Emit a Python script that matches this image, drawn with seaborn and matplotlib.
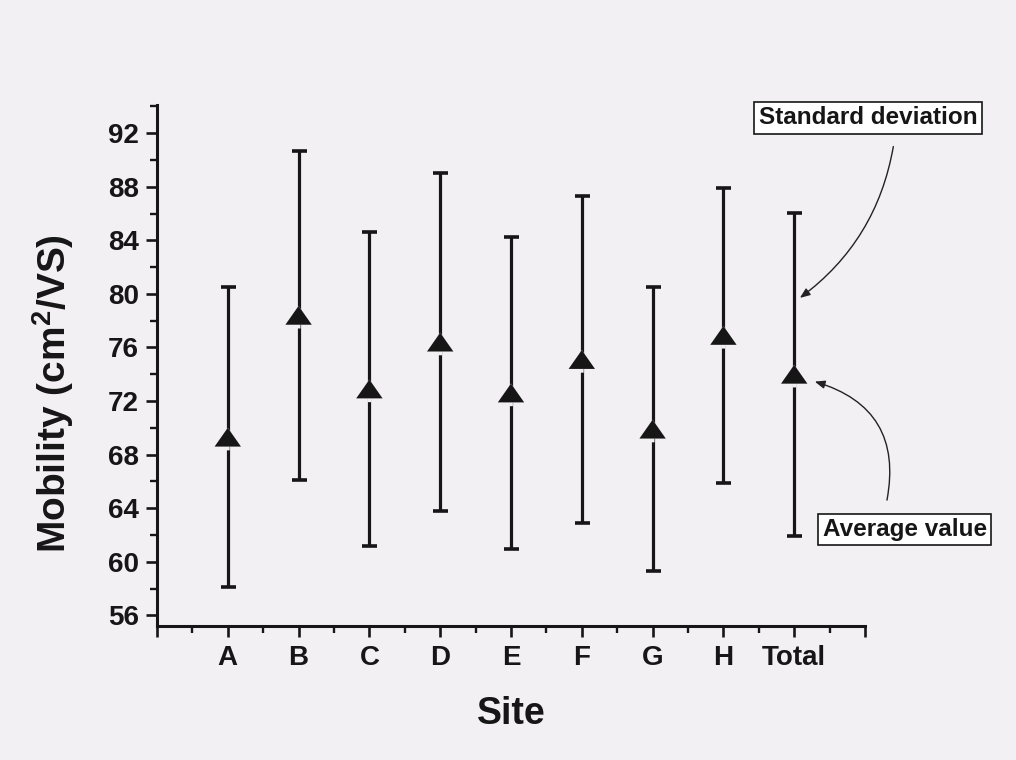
import numpy as np
import pandas as pd
import matplotlib
matplotlib.use("Agg")
import matplotlib.pyplot as plt
from matplotlib.path import Path
from matplotlib.ticker import MultipleLocator, FixedLocator
import seaborn as sns

# Mobility per measurement site: mean and standard deviation
sites = ["A", "B", "C", "D", "E", "F", "G", "H", "Total"]
mean_mobility = [69.3, 78.4, 72.9, 76.4, 72.6, 75.1, 69.9, 76.9, 74.0]
std_mobility = [11.2, 12.3, 11.7, 12.6, 11.65, 12.2, 10.6, 11.0, 12.05]
y_ticks = [56, 60, 64, 68, 72, 76, 80, 84, 88, 92]

df = pd.DataFrame({"site": sites, "mean": mean_mobility, "sd": std_mobility})
df["pos"] = np.arange(1, len(df) + 1)

sns.set_theme(style="ticks")
plt.rcParams["font.family"] = ["Liberation Sans", "DejaVu Sans"]
plt.rcParams["mathtext.fontset"] = "custom"
plt.rcParams["mathtext.rm"] = "Liberation Sans:bold"
plt.rcParams["mathtext.bf"] = "Liberation Sans:bold"

bg = "#f3f0f4"
ink = "#161616"

fig = plt.figure(figsize=(10.16, 7.6), dpi=100, facecolor=bg)
ax = fig.add_axes([0.1545, 0.1763, 0.6969, 0.6855])
ax.set_facecolor(bg)

# error bars (mean +/- sd)
ax.errorbar(df["pos"], df["mean"], yerr=df["sd"], fmt="none", ecolor=ink,
            elinewidth=2.3, capsize=5.4, capthick=2.6, zorder=2)

# wide triangle marker and a backdrop that leaves a small gap under its base
tri = Path([(0, 1), (-1.4, -1), (1.4, -1), (0, 1)],
           [Path.MOVETO, Path.LINETO, Path.LINETO, Path.CLOSEPOLY])
gap = Path([(0, 1), (-1.4, -1), (-0.2, -1), (-0.2, -1.4), (0.2, -1.4),
            (0.2, -1), (1.4, -1), (0, 1)],
           [Path.MOVETO] + [Path.LINETO] * 6 + [Path.CLOSEPOLY])

sns.scatterplot(data=df, x="pos", y="mean", marker=gap, s=19 ** 2, color=bg,
                edgecolor="none", linewidth=0, ax=ax, zorder=3, legend=False)
sns.scatterplot(data=df, x="pos", y="mean", marker=tri, s=19 ** 2, color=ink,
                edgecolor="none", linewidth=0, ax=ax, zorder=4, legend=False)

ax.set_xlim(0, 10)
ax.set_ylim(55.2, 94.1)

ax.xaxis.set_major_locator(FixedLocator(np.arange(0, len(sites) + 2)))
ax.set_xticklabels([""] + sites + [""])
ax.xaxis.set_minor_locator(MultipleLocator(0.5))
ax.yaxis.set_major_locator(FixedLocator(y_ticks))
ax.yaxis.set_minor_locator(MultipleLocator(2))

for side in ("top", "right"):
    ax.spines[side].set_visible(False)
for side in ("left", "bottom"):
    ax.spines[side].set_linewidth(2.2)
    ax.spines[side].set_color(ink)

ax.tick_params(axis="both", which="major", direction="out", length=8,
               width=1.9, color=ink, labelsize=20, labelcolor=ink)
ax.tick_params(axis="y", which="major", pad=5)
ax.tick_params(axis="x", which="major", pad=6)
ax.tick_params(axis="both", which="minor", direction="out", length=5,
               width=1.7, color=ink)
for lbl in ax.get_xticklabels() + ax.get_yticklabels():
    lbl.set_fontweight("bold")

ax.set_xlabel("Site", fontsize=27, fontweight="bold", color=ink, labelpad=18)
ax.set_ylabel(r"Mobility (cm$^2$/VS)", fontsize=28, fontweight="bold",
              color=ink)
ax.yaxis.set_label_coords(-0.115, 0.447)

# callouts
box = dict(boxstyle="square,pad=0.18", fc="white", ec=ink, lw=1.2)
arrow_kw = dict(arrowstyle="-|>,head_length=0.5,head_width=0.2", color="#222222",
                lw=1.0, shrinkA=0, shrinkB=0)

ax.text(10.04, 93.15, "Standard deviation", fontsize=17.5, fontweight="bold",
        ha="center", va="center", color=ink, bbox=box, clip_on=False)
ax.annotate("", xy=(9.08, 79.7), xytext=(10.4, 91.0),
            arrowprops=dict(connectionstyle="arc3,rad=-0.2", **arrow_kw),
            annotation_clip=False)

ax.text(10.56, 62.4, "Average value", fontsize=17.5, fontweight="bold",
        ha="center", va="center", color=ink, bbox=box, clip_on=False)
ax.annotate("", xy=(9.29, 73.45), xytext=(10.31, 64.6),
            arrowprops=dict(connectionstyle="arc3,rad=0.45", **arrow_kw),
            annotation_clip=False)

fig.savefig("out.png", dpi=100, facecolor=bg)
